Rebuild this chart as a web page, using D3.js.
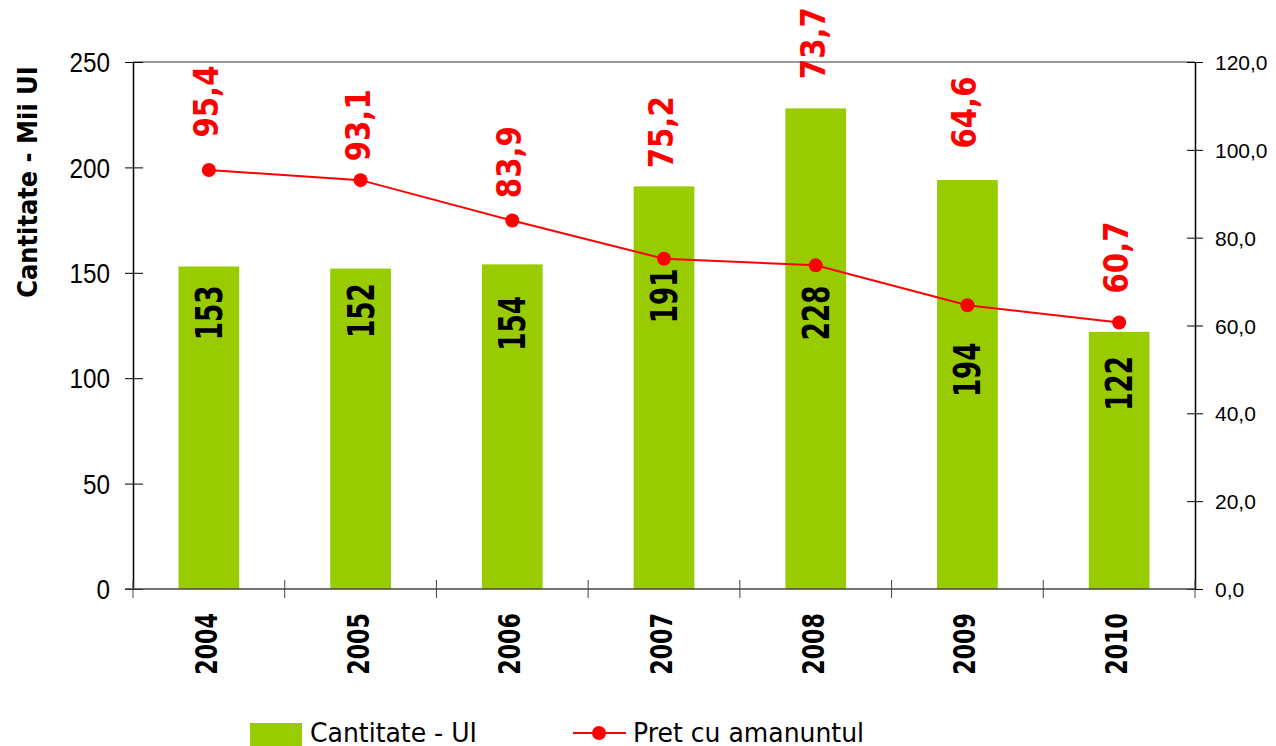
<!DOCTYPE html>
<html>
<head>
<meta charset="utf-8">
<script src="https://cdn.jsdelivr.net/npm/d3@7/dist/d3.min.js"></script>
<style>
  html, body { margin: 0; padding: 0; background: #fff; }
  svg { display: block; font-family: "DejaVu Sans", Verdana, sans-serif; }
</style>
</head>
<body>
<svg id="chart" width="1276" height="746"></svg>
<script>
// values
var years = ["2004", "2005", "2006", "2007", "2008", "2009", "2010"];
var cantitate = [153, 152, 154, 191, 228, 194, 122];          // Mii UI (left axis)
var pret = [95.4, 93.1, 83.9, 75.2, 73.7, 64.6, 60.7];         // right axis
// where each label sits, in the unit of its own axis
var cantitateLabelAt = [131, 132, 126, 139, 131, 104, 97.5];
var pretLabelAt = [111, 105.6, 97.2, 104, 124.3, 108.5, 75.5];
var leftTicks = [0, 50, 100, 150, 200, 250];
var rightTicks = [0, 20, 40, 60, 80, 100, 120];

var green = "#99cc00", red = "#ff0000";
var svg = d3.select("#chart");
var plotLeft = 133, plotRight = 1195, plotTop = 62, plotBottom = 589;

var x = d3.scaleBand().domain(years).range([plotLeft, plotRight]).paddingInner(0.6).paddingOuter(0.3);
var y = d3.scaleLinear().domain([0, 250]).range([plotBottom, plotTop]);
var y2 = d3.scaleLinear().domain([0, 120]).range([plotBottom, plotTop]);
var cx = function(d, i) { return x(years[i]) + x.bandwidth() / 2; };
var fmt = function(v) { return d3.format(".1f")(v).replace(".", ","); };

// rotated text (baseline at tx), squeezed along its length like the narrow original
function vtext(g, tx, ty, txt, size, k, color, anchor) {
  return g.append("text")
    .attr("transform", "translate(" + tx + "," + ty + ") rotate(-90) scale(" + k + ",1)")
    .attr("text-anchor", anchor || "middle")
    .style("font-size", size + "px")
    .style("font-weight", "bold")
    .attr("fill", color)
    .text(txt);
}

// top border of the plot area
svg.append("line")
  .attr("x1", plotLeft).attr("x2", plotRight).attr("y1", plotTop).attr("y2", plotTop)
  .attr("stroke", "#999").attr("stroke-width", 2);

// bars
svg.append("g").selectAll("rect")
  .data(cantitate)
  .join("rect")
  .attr("x", function(d, i) { return x(years[i]); })
  .attr("width", x.bandwidth())
  .attr("y", function(d) { return y(d); })
  .attr("height", function(d) { return plotBottom - y(d); })
  .attr("fill", green);

// left axis
var gl = svg.append("g").attr("transform", "translate(" + plotLeft + ",0)")
  .call(d3.axisLeft(y).tickValues(leftTicks).tickSizeInner(8).tickSizeOuter(0).tickFormat(d3.format("d")));
gl.select(".domain").attr("stroke", "#000").attr("stroke-width", 1.5);
gl.selectAll(".tick line").attr("stroke", "#000");
gl.selectAll(".tick").append("line").attr("x1", 0).attr("x2", 10).attr("stroke", "#000");
gl.selectAll(".tick text")
  .attr("x", 0).attr("dy", "0.36em")
  .attr("transform", "translate(-23,0) scale(0.9,1)")
  .style("font-size", "27px").attr("fill", "#000");

// right axis
var gr = svg.append("g").attr("transform", "translate(" + plotRight + ",0)")
  .call(d3.axisRight(y2).tickValues(rightTicks).tickSizeInner(8).tickSizeOuter(0).tickPadding(12).tickFormat(fmt));
gr.select(".domain").attr("stroke", "#000").attr("stroke-width", 1.5);
gr.selectAll(".tick line").attr("stroke", "#000");
gr.selectAll(".tick").append("line").attr("x1", 0).attr("x2", -8).attr("stroke", "#000");
gr.selectAll(".tick text").attr("dy", "0.36em").style("font-size", "21px").attr("fill", "#000");

// bottom axis with ticks between categories
svg.append("line")
  .attr("x1", plotLeft - 8).attr("x2", plotRight).attr("y1", plotBottom).attr("y2", plotBottom)
  .attr("stroke", "#444").attr("stroke-width", 1.5);
svg.append("g").selectAll("line")
  .data(d3.range(years.length + 1))
  .join("line")
  .attr("x1", function(i) { return plotLeft + i * x.step(); })
  .attr("x2", function(i) { return plotLeft + i * x.step(); })
  .attr("y1", plotBottom - 9).attr("y2", plotBottom + 9)
  .attr("stroke", "#444");
var gy = svg.append("g");
years.forEach(function(yr, i) {
  vtext(gy, cx(yr, i) + 8, 613, yr, 30, 0.74, "#000", "end");
});

// bar value labels
var gb = svg.append("g");
cantitate.forEach(function(v, i) {
  vtext(gb, cx(v, i) + 13, y(cantitateLabelAt[i]), v, 38, 0.69, "#000");
});

// price line
svg.append("path")
  .datum(pret)
  .attr("d", d3.line().x(cx).y(function(d) { return y2(d); }))
  .attr("fill", "none").attr("stroke", red).attr("stroke-width", 2);
svg.append("g").selectAll("circle")
  .data(pret)
  .join("circle")
  .attr("cx", cx)
  .attr("cy", function(d) { return y2(d); })
  .attr("r", 7)
  .attr("fill", red);

var gp = svg.append("g");
pret.forEach(function(v, i) {
  vtext(gp, cx(v, i) + 9, y2(pretLabelAt[i]), fmt(v), 34, 0.86, red);
});

// y axis title
vtext(svg, 37, 182, "Cantitate - Mii UI", 26, 0.93, "#000");

// legend
var lg = svg.append("g");
lg.append("rect").attr("x", 250).attr("y", 723).attr("width", 52).attr("height", 23).attr("fill", green);
lg.append("text").attr("transform", "translate(310,742) scale(0.93,1)")
  .style("font-size", "27px").attr("fill", "#000").text("Cantitate - UI");
lg.append("line").attr("x1", 573).attr("x2", 626).attr("y1", 733).attr("y2", 733)
  .attr("stroke", red).attr("stroke-width", 2);
lg.append("circle").attr("cx", 599).attr("cy", 733).attr("r", 7).attr("fill", red);
lg.append("text").attr("transform", "translate(633,742) scale(0.93,1)")
  .style("font-size", "27px").attr("fill", "#000").text("Pret cu amanuntul");
</script>
</body>
</html>
